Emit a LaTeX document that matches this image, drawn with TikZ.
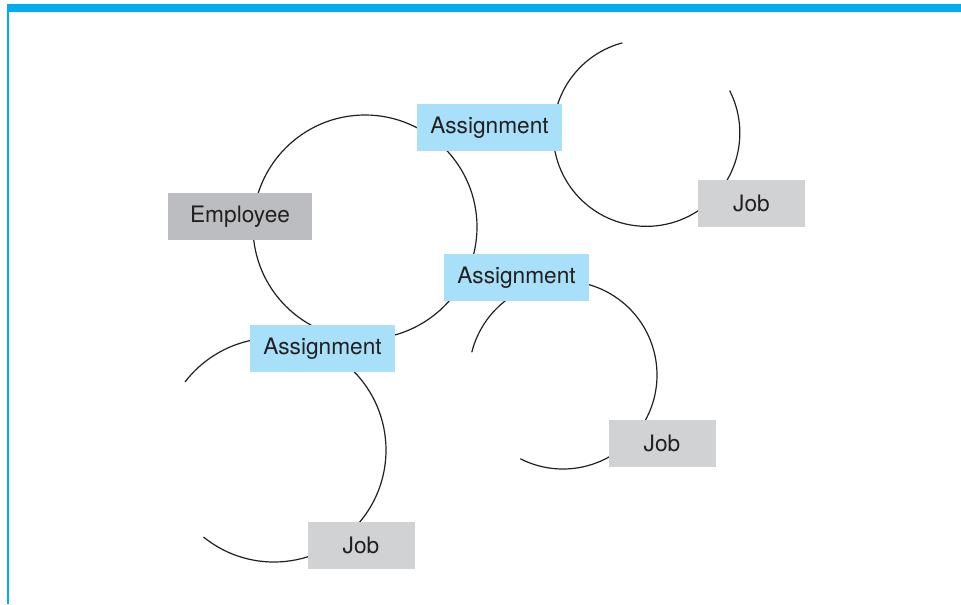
\documentclass[tikz,border=0pt]{standalone}
\usepackage{fontspec}
\setmainfont{TeX Gyre Heros}
\usepackage{tikz}

\definecolor{barblue}{HTML}{00AEEF}
\definecolor{asgblue}{HTML}{A8E0F9}
\definecolor{empgray}{HTML}{BCBDC1}
\definecolor{jobgray}{HTML}{D1D2D4}
\definecolor{inkdark}{HTML}{231F20}

\tikzset{
  box/.style={inner sep=0pt, minimum height=35.25pt, text=inkdark,
    font=\fontsize{17}{20}\selectfont},
  asg/.style={box, fill=asgblue, minimum width=108.75pt},
  emp/.style={box, fill=empgray, minimum width=108pt},
  job/.style={box, fill=jobgray, minimum width=80.25pt},
  loop/.style={draw=inkdark, line width=0.9pt}
}

\begin{document}
\begin{tikzpicture}[x=0.75pt, y=0.75pt]
    \useasboundingbox (0,0) rectangle (961,-604);

    % frame
    \fill[barblue] (7,-4) rectangle (961,-12);
    \draw[barblue, line width=1.5pt] (7.8,-12) -- (7.8,-604);

    \coordinate (c0) at (365,-227);
    \coordinate (c1) at (646.5,-133);
    \coordinate (c2) at (563,-375);
    \coordinate (c3) at (274,-450);

    \draw[loop] (c0) circle[radius=84pt];
    \draw[loop] ([shift={(105:70pt)}]c1) arc[start angle=105, end angle=387, radius=70pt];
    \draw[loop] ([shift={(243:70.5pt)}]c2) arc[start angle=243, end angle=526, radius=70.5pt];
    \draw[loop] ([shift={(231:84pt)}]c3) arc[start angle=231, end angle=502.6, radius=84pt];

    \node[emp] (e) at (240,-216.5) {Employee};
    \node[asg] (a1) at (489.5,-127.5) {Assignment};
    \node[asg] (a2) at (516.5,-277.5) {Assignment};
    \node[asg] (a3) at (322.5,-348.5) {Assignment};
    \node[job] (j1) at (751.5,-203.5) {Job};
    \node[job] (j2) at (662,-443.5) {Job};
    \node[job] (j3) at (361,-545.5) {Job};
\end{tikzpicture}
\end{document}
